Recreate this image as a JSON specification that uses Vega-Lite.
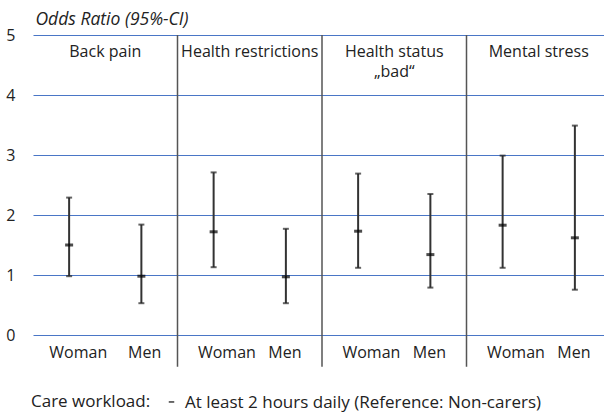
{
  "$schema": "https://vega.github.io/schema/vega-lite/v6.json",
  "autosize": "none",
  "padding": {"left": 33, "top": 35, "right": 0, "bottom": 79},
  "width": 578,
  "height": 300,
  "config": {
    "font": "Open Sans",
    "view": {"stroke": null},
    "axis": {"labelColor": "#222", "titleColor": "#222", "gridColor": "#4a76c6"},
    "axisY": {
      "grid": true, "gridColor": "#4a76c6", "gridWidth": 1.1, "gridOpacity": 1,
      "domain": false, "ticks": false, "labelPadding": 18, "labelFontSize": 16, "format": "d"
    },
    "axisX": {"domain": false, "ticks": false, "grid": false, "labelAngle": 0, "labelPadding": 9, "labelFontSize": 16}
  },
  "data": {
    "values": [
      {"outcome": "Back pain", "sex": "Woman", "or": 1.5, "lo": 0.98, "hi": 2.29},
      {"outcome": "Back pain", "sex": "Men", "or": 0.98, "lo": 0.53, "hi": 1.84},
      {"outcome": "Health restrictions", "sex": "Woman", "or": 1.72, "lo": 1.13, "hi": 2.71},
      {"outcome": "Health restrictions", "sex": "Men", "or": 0.97, "lo": 0.53, "hi": 1.77},
      {"outcome": "Health status\n„bad“", "sex": "Woman", "or": 1.73, "lo": 1.12, "hi": 2.69},
      {"outcome": "Health status\n„bad“", "sex": "Men", "or": 1.34, "lo": 0.79, "hi": 2.35},
      {"outcome": "Mental stress", "sex": "Woman", "or": 1.83, "lo": 1.12, "hi": 2.99},
      {"outcome": "Mental stress", "sex": "Men", "or": 1.62, "lo": 0.755, "hi": 3.49}
    ]
  },
  "layer": [
    {
      "mark": {"type": "rule", "color": "#333", "strokeWidth": 2},
      "encoding": {
        "x": {
          "field": "outcome", "type": "nominal", "sort": null,
          "scale": {"paddingInner": 0, "paddingOuter": 0},
          "axis": {
            "title": null,
            "labelExpr": "datum.value == 'Back pain' ? 'Woman\u00a0\u00a0\u00a0\u00a0\u00a0Men' : 'Woman\u00a0\u00a0\u00a0Men'"
          }
        },
        "xOffset": {"field": "sex", "type": "nominal", "sort": ["Woman", "Men"], "scale": {"paddingInner": 0, "paddingOuter": 0}},
        "y": {
          "field": "lo", "type": "quantitative", "title": "Odds Ratio (95%-CI)",
          "scale": {"domain": [0, 5], "nice": false, "zero": true},
          "axis": {
            "values": [0, 1, 2, 3, 4, 5], "gridColor": "#4a76c6",
            "titleAngle": 0, "titleAlign": "left", "titleBaseline": "alphabetic",
            "titleX": 2, "titleY": -11, "titleFontStyle": "italic", "titleFontWeight": "normal", "titleFontSize": 17.5
          }
        },
        "y2": {"field": "hi"}
      }
    },
    {
      "mark": {"type": "tick", "color": "#222", "size": 6, "thickness": 2},
      "encoding": {
        "x": {"field": "outcome", "type": "nominal", "sort": null},
        "xOffset": {"field": "sex", "type": "nominal", "sort": ["Woman", "Men"]},
        "y": {"field": "lo", "type": "quantitative", "title": "Odds Ratio (95%-CI)"}
      }
    },
    {
      "mark": {"type": "tick", "color": "#222", "size": 6, "thickness": 2},
      "encoding": {
        "x": {"field": "outcome", "type": "nominal", "sort": null},
        "xOffset": {"field": "sex", "type": "nominal", "sort": ["Woman", "Men"]},
        "y": {"field": "hi", "type": "quantitative", "title": "Odds Ratio (95%-CI)"}
      }
    },
    {
      "mark": {"type": "tick", "size": 8, "thickness": 3},
      "encoding": {
        "x": {"field": "outcome", "type": "nominal", "sort": null},
        "xOffset": {"field": "sex", "type": "nominal", "sort": ["Woman", "Men"]},
        "y": {"field": "or", "type": "quantitative", "title": "Odds Ratio (95%-CI)"},
        "color": {
          "datum": "At least 2 hours daily (Reference: Non-carers)",
          "scale": {"range": ["#000000"]},
          "legend": {
            "title": "Care workload:", "orient": "none", "legendX": -2, "legendY": 359,
            "direction": "horizontal", "titleOrient": "left", "titleFontSize": 17,
            "titleFontWeight": "normal", "titleColor": "#222", "titlePadding": 12,
            "labelFontSize": 17, "labelColor": "#222", "labelOffset": 5, "labelLimit": 600,
            "symbolType": "M-1,-0.5H1V0.1H-1Z", "symbolSize": 30, "symbolStrokeWidth": 0,
            "symbolFillColor": "#000", "titleBaseline": "middle"
          }
        }
      }
    },
    {
      "transform": [{"filter": "datum.sex == 'Woman' && datum.outcome != 'Back pain'"}],
      "mark": {"type": "rule", "color": "#555", "strokeWidth": 1.5},
      "encoding": {
        "x": {"field": "outcome", "type": "nominal", "sort": null, "bandPosition": 0},
        "y": {"datum": 5},
        "y2": {"datum": -0.53}
      }
    },
    {
      "transform": [{"filter": "datum.sex == 'Woman'"}],
      "mark": {"type": "text", "fontSize": 16, "color": "#222", "lineBreak": "\n", "lineHeight": 20, "baseline": "alphabetic"},
      "encoding": {
        "x": {"field": "outcome", "type": "nominal", "sort": null, "bandPosition": 0.5},
        "y": {"datum": 4.64},
        "text": {"field": "outcome"}
      }
    }
  ]
}
